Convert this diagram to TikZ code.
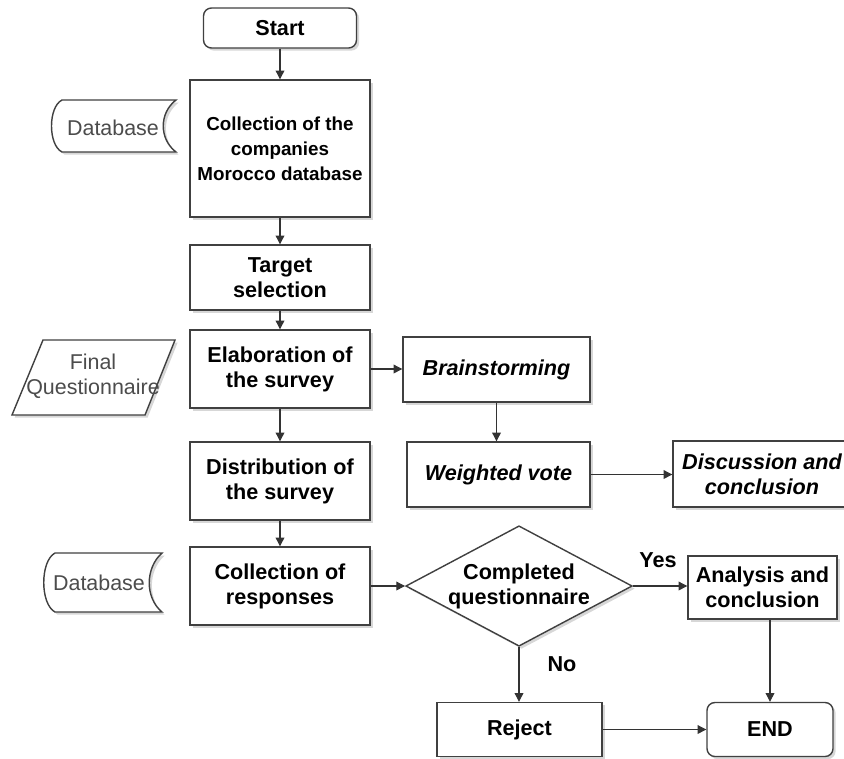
\documentclass[tikz,border=0pt]{standalone}
\usepackage{fontspec}
\setmainfont{Liberation Sans}
\usetikzlibrary{arrows.meta,shapes.geometric,shadows}
\tikzset{
  shdw/.style={drop shadow={shadow xshift=1.5pt,shadow yshift=-1.5pt,fill=black!45,opacity=0.35}},
  proc/.style={draw=black!75,line width=0.8pt,fill=white,shdw,align=center,inner sep=0pt,
    font=\fontsize{12.3}{14.2}\selectfont\bfseries},
  term/.style={proc,rounded corners=4.5pt},
  idea/.style={proc,font=\fontsize{12.3}{14.2}\selectfont\bfseries\itshape},
  dec/.style={proc,diamond,aspect=1.88},
  store/.style={draw=black!75,line width=0.8pt,fill=white,shdw},
  note/.style={text=black!70,align=center,inner sep=0pt,font=\fontsize{12.2}{14.2}\selectfont},
  lbl/.style={font=\fontsize{12.3}{14.2}\selectfont\bfseries},
  flow/.style={draw=black!80,line width=0.6pt,-{Triangle[width=5pt,length=5pt]}}
}

\begin{document}
\begin{tikzpicture}[x=0.02cm,y=-0.02cm]
  \useasboundingbox (0,0) rectangle (844,758);

  % main column
  \node[term,minimum width=3.06cm,minimum height=0.8cm] (start) at (280,28) {Start};
  \node[proc,minimum width=3.6cm,minimum height=2.74cm,
    font=\fontsize{10.7}{14.2}\selectfont\bfseries] (base) at (280,148.5)
    {Collection of the\\companies\\Morocco database};
  \node[proc,minimum width=3.6cm,minimum height=1.3cm] (target) at (280,277.5) {Target\\selection};
  \node[proc,minimum width=3.6cm,minimum height=1.56cm] (elab) at (280,369) {Elaboration of\\the survey};
  \node[proc,minimum width=3.6cm,minimum height=1.56cm] (distr) at (280,481) {Distribution of\\the survey};
  \node[proc,minimum width=3.6cm,minimum height=1.56cm] (resp) at (280,586) {Collection of\\responses};

  \draw[flow] (start.south) -- (base.north);
  \draw[flow] (base.south) -- (target.north);
  \draw[flow] (target.south) -- (elab.north);
  \draw[flow] (elab.south) -- (distr.north);
  \draw[flow] (distr.south) -- (resp.north);

  % side shapes
  \draw[store] (62,100) -- (176,100) .. controls (159,113) and (159,139) .. (176,152)
    -- (62,152) .. controls (48,145) and (48,107) .. (62,100) -- cycle;
  \node[note] (db1) at (113,128) {Database};
  \draw[store] (43,340) -- (175,340) -- (145,415) -- (12,415) -- cycle;
  \node[note] (fq) at (93,376) {Final\\Questionnaire};
  \draw[store] (55,553) -- (162,553) .. controls (145,568) and (145,598) .. (162,612)
    -- (55,612) .. controls (40,604) and (40,561) .. (55,553) -- cycle;
  \node[note] (db2) at (99,583) {Database};

  % survey branch
  \node[idea,minimum width=3.74cm,minimum height=1.3cm] (brain) at (496.5,369.5) {Brainstorming};
  \node[idea,minimum width=3.66cm,minimum height=1.3cm] (vote) at (498.5,474.5) {Weighted vote};
  \node[idea,minimum width=3.56cm,minimum height=1.32cm] (disc) at (762,474) {Discussion and\\conclusion};

  \draw[flow] (elab.east) -- (elab.east -| brain.west);
  \draw[flow] (brain.south) -- (brain.south |- vote.north);
  \draw[flow] (vote.east) -- (vote.east -| disc.west);

  % decision
  \node[dec,minimum width=4.44cm,minimum height=2.36cm] (check) at (519,586) {Completed\\questionnaire};
  \node[proc,minimum width=2.98cm,minimum height=1.26cm] (ana) at (762.5,587.5) {Analysis and\\conclusion};
  \node[proc,minimum width=3.3cm,minimum height=1.08cm] (reject) at (519.5,729.5) {Reject};
  \node[term,minimum width=2.52cm,minimum height=1.08cm] (endn) at (770,729.5) {END};
  \node[lbl] (yes) at (658,560) {Yes};
  \node[lbl] (no) at (562,664) {No};

  \draw[flow] (resp.east) -- (check.west);
  \draw[flow] (check.east) -- (check.east -| ana.west);
  \draw[flow] (check.south) -- (check.south |- reject.north);
  \draw[flow] (reject.east) -- (reject.east -| endn.west);
  \draw[flow] (ana.south -| endn.north) -- (endn.north);
\end{tikzpicture}
\end{document}
